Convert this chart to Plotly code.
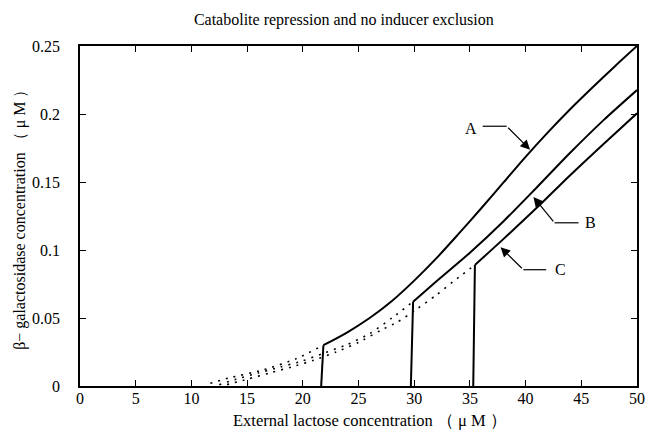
import plotly.graph_objects as go

# Solid (stable, induced) branches: first two points form the jump
a_x = [21.65, 21.85, 24, 26, 28, 30, 32, 34, 36, 38, 40, 42, 44, 46, 48, 50]
a_y = [0, 0.030, 0.0395, 0.050, 0.0625, 0.0775, 0.094, 0.112, 0.1305, 0.1495, 0.1685, 0.1865, 0.2035, 0.2195, 0.235, 0.25]

b_x = [29.7, 29.9, 32, 35, 38, 41, 44, 47, 50]
b_y = [0, 0.062, 0.077, 0.098, 0.121, 0.146, 0.1715, 0.1955, 0.2176]

c_x = [35.3, 35.45, 38, 41, 44, 47, 50]
c_y = [0, 0.089, 0.108, 0.131, 0.155, 0.178, 0.2005]

# Dotted (unstable) branches
ad_x = [11.7, 13.4, 16.4, 19.4, 21.85]
ad_y = [0.002, 0.006, 0.0117, 0.020, 0.030]

bd_x = [12.5, 14, 16, 18, 20, 22, 24, 26, 28, 29.9]
bd_y = [0.001, 0.005, 0.0095, 0.014, 0.0185, 0.0245, 0.0305, 0.0385, 0.050, 0.062]

cd_x = [13.2, 15, 17, 19, 21, 23, 25, 27, 28.5, 30.3, 32, 34, 35.45]
cd_y = [0.001, 0.005, 0.0095, 0.014, 0.019, 0.025, 0.032, 0.041, 0.047, 0.057, 0.067, 0.080, 0.089]

x_ticks = [0, 5, 10, 15, 20, 25, 30, 35, 40, 45, 50]
y_ticks = [0, 0.05, 0.1, 0.15, 0.2, 0.25]
y_tick_labels = ["0", "0.05", "0.1", "0.15", "0.2", "0.25"]

FONT = "Liberation Serif, Times New Roman, serif"

fig = go.Figure()
for xs, ys in [(ad_x, ad_y), (bd_x, bd_y), (cd_x, cd_y)]:
    fig.add_trace(go.Scatter(x=xs, y=ys, mode="lines",
                             line=dict(color="black", width=1.6, dash="2px,6px", shape="spline", smoothing=0.6),
                             showlegend=False, hoverinfo="skip"))
for xs, ys in [(a_x, a_y), (b_x, b_y), (c_x, c_y)]:
    # vertical jump
    fig.add_trace(go.Scatter(x=xs[:2], y=ys[:2], mode="lines", line=dict(color="black", width=2),
                             showlegend=False, hoverinfo="skip"))
    # upper stable branch
    fig.add_trace(go.Scatter(x=xs[1:], y=ys[1:], mode="lines",
                             line=dict(color="black", width=2, shape="spline", smoothing=0.8),
                             showlegend=False, hoverinfo="skip"))

# Label callouts: (label, text x, text y, elbow start x, elbow end x, arrow tip x, tip y)
callouts = [
    ("A", 35.1, 0.1895, 36.15, 38.3, 40.4, 0.1738),
    ("B", 45.8, 0.120, 44.75, 42.6, 40.7, 0.139),
    ("C", 43.1, 0.0855, 41.85, 39.8, 37.75, 0.102),
]
for lab, tx, ty, x1, x2, px, py in callouts:
    ly = ty + (0.0015 if lab == "A" else 0)
    fig.add_annotation(x=tx, y=ty, text=lab, showarrow=False, font=dict(family=FONT, size=16, color="black"),
                       xanchor="center", yanchor="middle")
    fig.add_shape(type="line", x0=x1, x1=x2, y0=ly, y1=ly, line=dict(color="black", width=1.2))
    fig.add_annotation(x=px, y=py, ax=x2, ay=ly, axref="x", ayref="y",
                       text="", showarrow=True, arrowhead=2, arrowsize=1.6, arrowwidth=1.2, arrowcolor="black")

axis_common = dict(showgrid=False, zeroline=False, showline=True, linecolor="black", linewidth=1.5,
                   mirror="ticks", ticks="inside", ticklen=6, tickwidth=1, tickcolor="black",
                   tickfont=dict(family=FONT, size=16, color="black"), automargin=False)

fig.update_xaxes(range=[0, 50], tickvals=x_ticks, ticktext=[str(v) for v in x_ticks],
                 ticklabelstandoff=-3, **axis_common)
fig.update_yaxes(range=[0, 0.25], tickvals=y_ticks, ticktext=y_tick_labels,
                 ticklabelstandoff=15, **axis_common)

fig.add_annotation(xref="paper", yref="paper", x=0.52, y=-0.1, text="External lactose concentration （ μ M ）",
                   showarrow=False, xanchor="center", yanchor="middle", font=dict(family=FONT, size=16.5, color="black"))
fig.add_annotation(xref="paper", yref="paper", x=-0.108, y=0.5, text="β− galactosidase concentration （ μ M ）",
                   textangle=-90, showarrow=False, xanchor="center", yanchor="middle",
                   font=dict(family=FONT, size=16, color="black"))

fig.update_layout(
    width=650, height=440,
    margin=dict(l=80, r=12.5, t=46, b=54),
    paper_bgcolor="white", plot_bgcolor="white",
    title=dict(text="Catabolite repression and no inducer exclusion", x=0.529, xanchor="center",
               y=0.956, yanchor="middle", font=dict(family=FONT, size=16, color="black")),
)

fig.write_html("out.html", config={"displayModeBar": False},
               post_script="document.body.style.margin='0';document.body.style.overflow='hidden';")
